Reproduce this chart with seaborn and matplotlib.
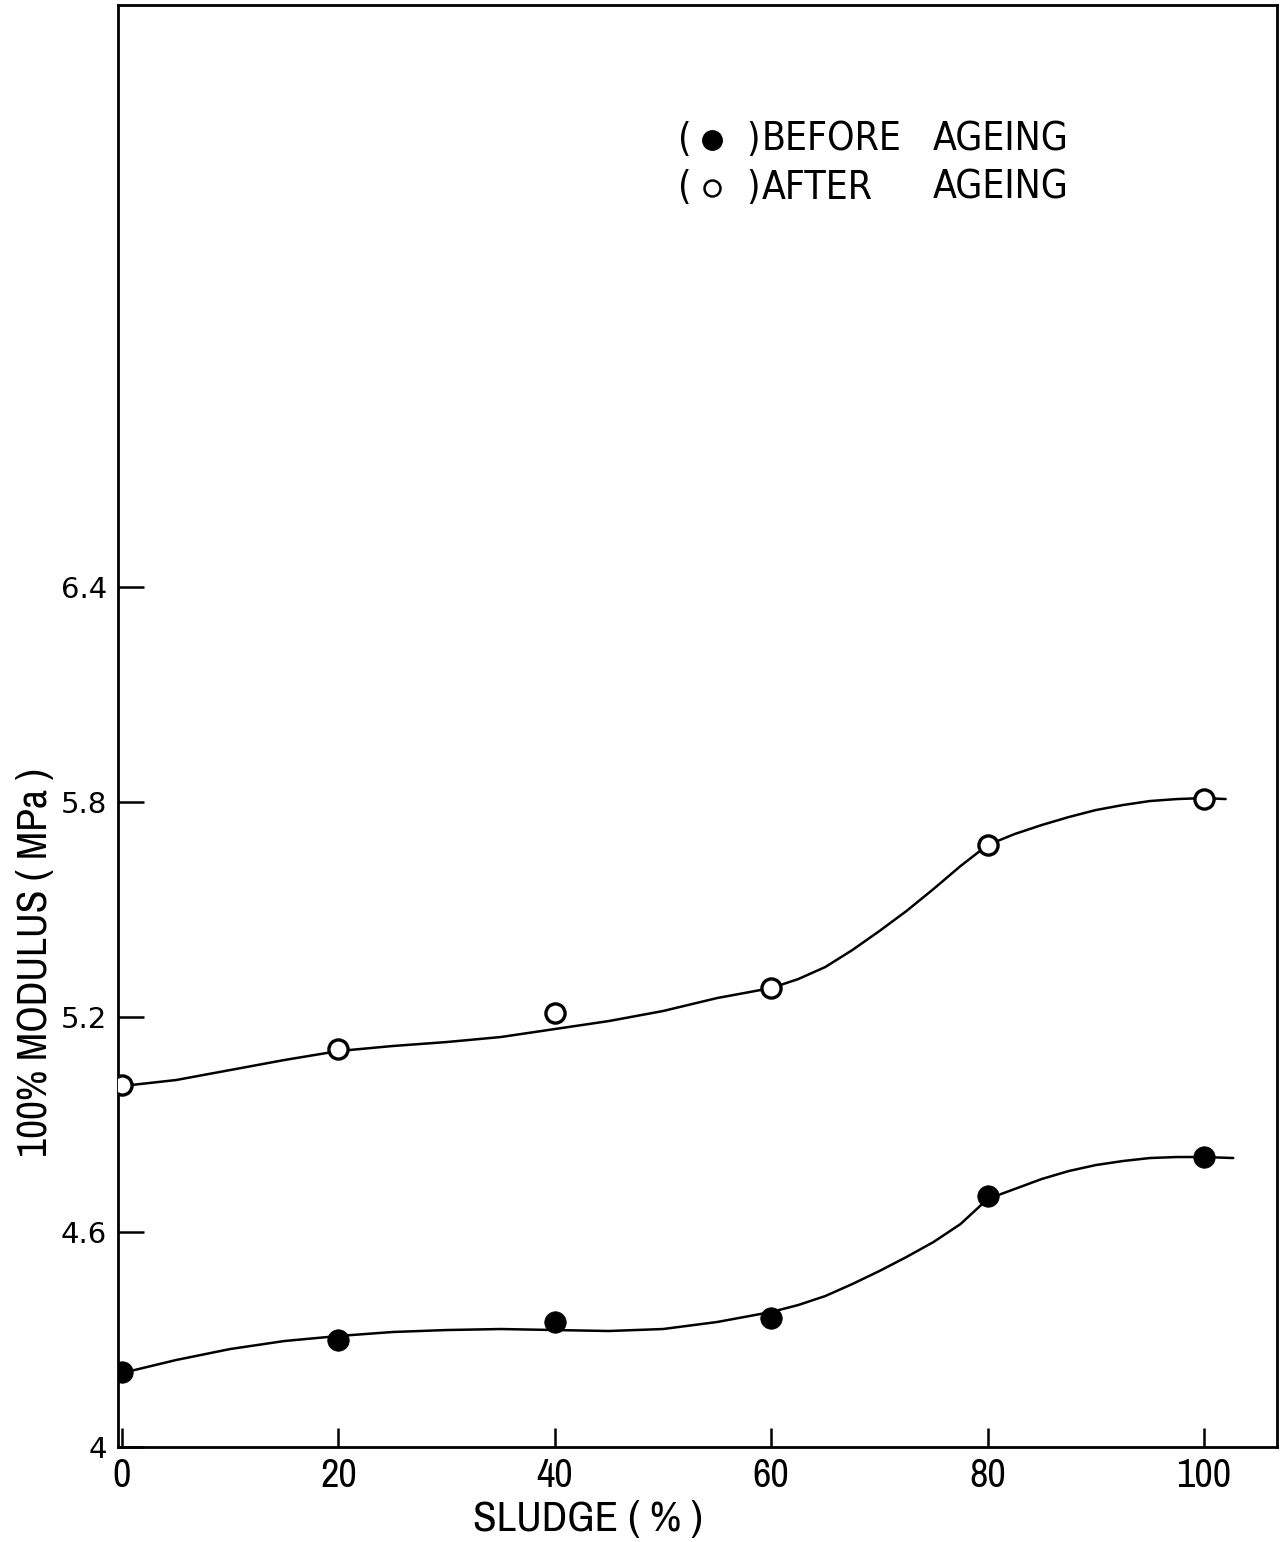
import numpy as np
import pandas as pd
import matplotlib
matplotlib.use("Agg")
import matplotlib.pyplot as plt
from matplotlib import font_manager
import seaborn as sns

# Measured points: 100% modulus (MPa) against sludge content (%)
sludge = [0, 20, 40, 60, 80, 100]
before_ageing = [4.21, 4.30, 4.35, 4.36, 4.70, 4.81]
after_ageing = [5.01, 5.11, 5.21, 5.28, 5.68, 5.81]

# Hand-drawn trend curves through each series
after_curve_x = [0, 5, 10, 15, 20, 25, 30, 35, 40, 45, 50, 55, 60, 62.5, 65,
                 67.5, 70, 72.5, 75, 77.5, 80, 82.5, 85, 87.5, 90, 92.5, 95,
                 97.5, 100, 102]
after_curve_y = [5.0075, 5.0243, 5.0522, 5.0801, 5.1052, 5.1192, 5.1303, 5.1443,
                 5.1666, 5.1889, 5.2169, 5.2531, 5.2810, 5.3061, 5.3397, 5.3871,
                 5.4401, 5.4960, 5.5574, 5.6216, 5.6802, 5.7109, 5.7360, 5.7583,
                 5.7778, 5.7918, 5.8030, 5.8085, 5.8113, 5.8085]
before_curve_x = [0, 5, 10, 15, 20, 25, 30, 35, 40, 45, 50, 55, 60, 62.5, 65,
                  67.5, 70, 72.5, 75, 77.5, 80, 82.5, 85, 87.5, 90, 92.5, 95,
                  97.5, 100, 102.7]
before_curve_y = [4.2065, 4.2428, 4.2735, 4.2958, 4.3098, 4.3210, 4.3265, 4.3293,
                  4.3265, 4.3238, 4.3293, 4.3489, 4.3768, 4.3963, 4.4214, 4.4549,
                  4.4912, 4.5303, 4.5721, 4.6224, 4.6922, 4.7201, 4.7480, 4.7703,
                  4.7870, 4.7982, 4.8066, 4.8094, 4.8094, 4.8066]

x_ticks = [0, 20, 40, 60, 80, 100]
x_tick_labels = ["0", "20", "40", "60", "80", "100"]
y_ticks = [4, 4.6, 5.2, 5.8, 6.4]
y_tick_labels = ["4", "4.6", "5.2", "5.8", "6.4"]

sns.set_style("white")
plt.rcParams["font.family"] = ["DejaVu Sans"]
plt.rcParams["text.color"] = "black"
plt.rcParams["axes.labelcolor"] = "black"
plt.rcParams["xtick.color"] = "black"
plt.rcParams["ytick.color"] = "black"

installed = {f.name for f in font_manager.fontManager.ttflist}
narrow_candidates = [n for n in sorted(installed)
                     if "Narrow" in n or "Condensed" in n]
narrow = narrow_candidates[0] if narrow_candidates else "DejaVu Sans"

points = pd.DataFrame({
    "sludge": sludge * 2,
    "modulus": before_ageing + after_ageing,
    "state": ["before"] * len(sludge) + ["after"] * len(sludge),
})
curve_after = pd.DataFrame({"sludge": after_curve_x, "modulus": after_curve_y})
curve_before = pd.DataFrame({"sludge": before_curve_x, "modulus": before_curve_y})

fig = plt.figure(figsize=(12.81, 15.42), dpi=100)
ax = fig.add_axes([0.0921, 0.0616, 0.9048, 0.9352])

line_kw = dict(color="black", linewidth=1.8, ax=ax, legend=False)
sns.lineplot(data=curve_after, x="sludge", y="modulus", **line_kw)
sns.lineplot(data=curve_before, x="sludge", y="modulus", **line_kw)

sns.scatterplot(data=points[points.state == "before"], x="sludge", y="modulus",
                s=240, color="black", edgecolor="black", linewidth=0.5,
                zorder=3, ax=ax, legend=False)
sns.scatterplot(data=points[points.state == "after"], x="sludge", y="modulus",
                s=190, facecolor="white", edgecolor="black", linewidth=2.4,
                zorder=3, ax=ax, legend=False)

ax.set_xlim(-0.37, 106.75)
ax.set_ylim(4.0, 8.025)

ax.set_xticks(x_ticks)
ax.set_xticklabels(x_tick_labels, fontfamily=narrow, fontstretch="condensed",
                   fontsize=29)
ax.set_yticks(y_ticks)
ax.set_yticklabels(y_tick_labels, fontsize=21)
ax.tick_params(axis="both", direction="in", colors="black", width=1.8,
               bottom=True, left=True, top=False, right=False)
ax.tick_params(axis="y", length=19, pad=8)
ax.tick_params(axis="x", length=14, pad=7)

for side in ["left", "right", "top", "bottom"]:
    ax.spines[side].set_visible(True)
    ax.spines[side].set_color("black")
    ax.spines[side].set_linewidth(2.0)

ax.set_xlabel("SLUDGE ( % )", fontfamily=narrow, fontstretch="condensed",
              fontsize=31, color="black")
ax.xaxis.set_label_coords(0.4055, -0.037)
ax.set_ylabel("100% MODULUS ( MPa )", fontfamily=narrow, fontstretch="condensed",
              fontsize=30, color="black")
ax.yaxis.set_label_coords(-0.055, 0.336)

# Key written in the upper part of the plot
key_kw = dict(transform=ax.transAxes, fontsize=28, va="center", color="black",
              fontstretch="condensed")
row_y = [0.9064, 0.8731]
ax.text(0.4832, row_y[0], "(", **key_kw)
ax.text(0.4832, row_y[1], "(", **key_kw)
ax.plot([0.5125], [row_y[0]], transform=ax.transAxes, marker="o", markersize=14,
        color="black", clip_on=False)
ax.plot([0.5125], [row_y[1]], transform=ax.transAxes, marker="o", markersize=11.5,
        markerfacecolor="white", markeredgecolor="black", markeredgewidth=1.8,
        clip_on=False)
ax.text(0.5420, row_y[0], ")", **key_kw)
ax.text(0.5420, row_y[1], ")", **key_kw)
ax.text(0.5557, row_y[0], "BEFORE", **key_kw)
ax.text(0.5557, row_y[1], "AFTER", **key_kw)
ax.text(0.7030, row_y[0], "AGEING", **key_kw)
ax.text(0.7030, row_y[1], "AGEING", **key_kw)

fig.savefig("out.png", dpi=100, facecolor="white")
